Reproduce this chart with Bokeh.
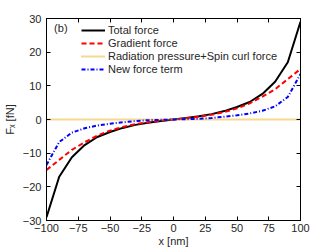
from bokeh.plotting import figure
from bokeh.models import LinearAxis, Range1d, FixedTicker, Legend, LegendItem, Label
from bokeh.embed import file_html
from bokeh.resources import INLINE

x_nm = [-100, -90, -80, -70, -60, -50, -40, -30, -20, -10, 0, 10, 20, 30, 40, 50, 60, 70, 80, 90, 100]
total_half = [0.45, 0.95, 1.6, 2.5, 3.7, 5.2, 7.6, 11.2, 17.0, 29.0]
grad_half = [0.35, 0.8, 1.4, 2.2, 3.3, 4.8, 6.8, 9.0, 12.0, 15.0]
new_half = [0.1, 0.2, 0.45, 0.85, 1.25, 1.8, 2.6, 3.9, 6.7, 13.5]

total_force = [-v for v in total_half[::-1]] + [0.0] + total_half
gradient_force = [-v for v in grad_half[::-1]] + [0.0] + grad_half
new_force = [-v for v in new_half[::-1]] + [0.0] + new_half
rad_spin_force = [0.0] * len(x_nm)

x_ticks = [-100, -75, -50, -25, 0, 25, 50, 75, 100]
y_ticks = [-30, -20, -10, 0, 10, 20, 30]

FONT = "Liberation Sans"

p = figure(width=332, height=249, output_backend="svg", toolbar_location=None,
           x_range=Range1d(-100, 100), y_range=Range1d(-30, 30),
           min_border_left=43, min_border_right=32, min_border_top=18, min_border_bottom=29)
p.xgrid.visible = False
p.ygrid.visible = False
p.outline_line_color = "black"
p.outline_line_width = 1
p.background_fill_color = "white"
p.border_fill_color = "white"

for ax in [p.xaxis[0], p.yaxis[0]]:
    ax.major_tick_in = 4
    ax.major_tick_out = 0
    ax.minor_tick_in = 0
    ax.minor_tick_out = 0
    ax.axis_line_color = "black"
    ax.major_label_text_font = FONT
    ax.major_label_text_font_size = "11px"
    ax.major_label_text_color = "#262626"
    ax.axis_label_text_font = FONT
    ax.axis_label_text_font_size = "11px"
    ax.axis_label_text_font_style = "normal"
    ax.axis_label_text_color = "#262626"
    ax.axis_label_standoff = 0

p.xaxis[0].ticker = FixedTicker(ticks=x_ticks)
p.yaxis[0].ticker = FixedTicker(ticks=y_ticks)
p.xaxis[0].axis_label = "x [nm]"
p.yaxis[0].axis_label = "Fₓ [fN]"
p.xaxis[0].major_label_standoff = 3
p.yaxis[0].major_label_standoff = 5
p.yaxis[0].axis_label_standoff = 4

for loc, tk in [("above", x_ticks), ("right", y_ticks)]:
    ax = LinearAxis(ticker=FixedTicker(ticks=tk))
    ax.major_tick_in = 4
    ax.major_tick_out = 0
    ax.minor_tick_in = 0
    ax.minor_tick_out = 0
    ax.major_label_text_font_size = "1px"
    ax.major_label_text_color = None
    ax.major_label_standoff = 0
    ax.axis_line_color = "black"
    p.add_layout(ax, loc)

r_total = p.line(x_nm, total_force, line_color="black", line_width=2)
r_grad = p.line(x_nm, gradient_force, line_color="#FF0000", line_width=2, line_dash="5 3")
r_rad = p.line(x_nm, rad_spin_force, line_color="#EDB120", line_width=2, line_dash="1 1")
r_new = p.line(x_nm, new_force, line_color="#0000FF", line_width=2, line_dash="4 2 1 2")

legend = Legend(items=[
    LegendItem(label="Total force", renderers=[r_total]),
    LegendItem(label="Gradient force", renderers=[r_grad]),
    LegendItem(label="Radiation pressure+Spin curl force", renderers=[r_rad]),
    LegendItem(label="New force term", renderers=[r_new]),
], location=(35, 145))
legend.margin = 0
legend.padding = 0
legend.spacing = 1
legend.glyph_width = 24
legend.glyph_height = 12
legend.label_height = 12
legend.label_standoff = 3
legend.label_text_font = FONT
legend.label_text_font_size = "11px"
legend.label_text_color = "#262626"
legend.border_line_color = None
legend.background_fill_alpha = 0
p.add_layout(legend)

p.add_layout(Label(x=-94, y=27.3, text="(b)", text_font=FONT, text_font_size="11px",
                   text_baseline="middle", text_color="#262626"))

open("out.html", "w").write(file_html(p, INLINE))
